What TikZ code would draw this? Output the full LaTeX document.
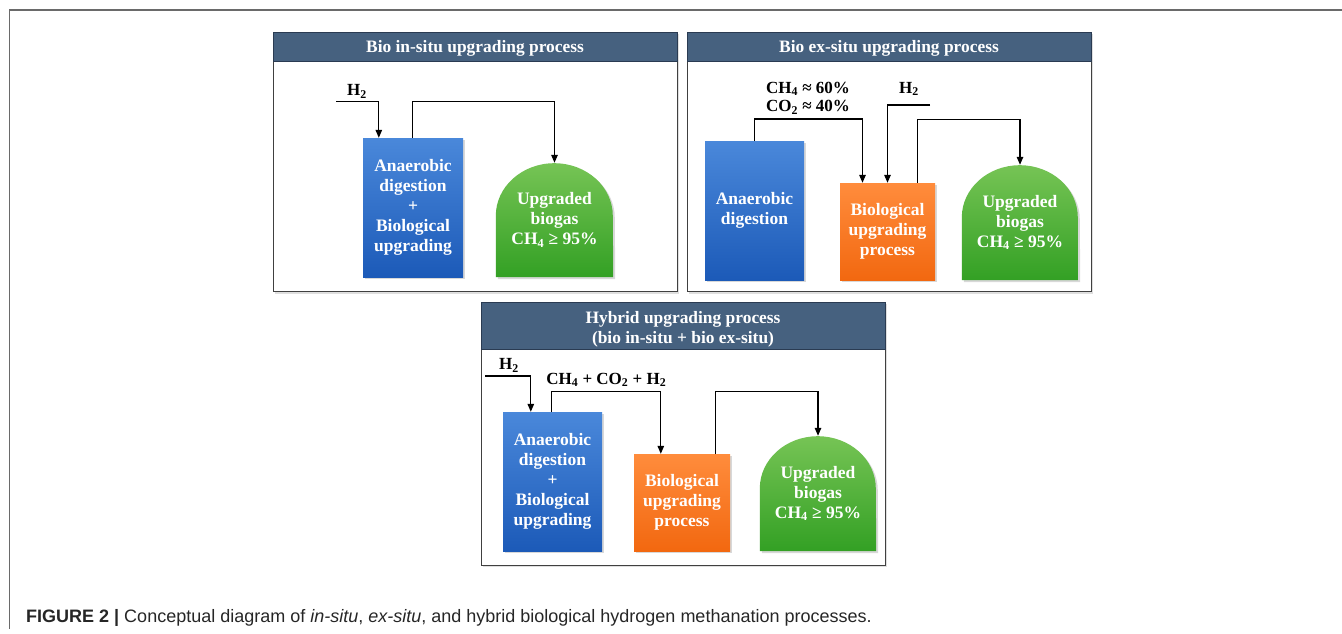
\documentclass[tikz,border=0pt]{standalone}
\usepackage{fontspec}
\setmainfont{Liberation Serif}
\newfontfamily\capfont{Liberation Sans}
\usetikzlibrary{arrows.meta,shadows}
\pgfdeclarelayer{panels}
\pgfdeclarelayer{background}
\pgfsetlayers{panels,background,main}
\definecolor{hdr}{HTML}{46617F}
\definecolor{hdrdark}{HTML}{2A3B52}
\definecolor{bltop}{HTML}{4A88DA}
\definecolor{blbot}{HTML}{1C5AB8}
\definecolor{ortop}{HTML}{FF8C3C}
\definecolor{orbot}{HTML}{F26810}
\definecolor{grtop}{HTML}{76C455}
\definecolor{grbot}{HTML}{33A024}
\definecolor{framegray}{HTML}{6A6A6A}
\tikzset{
  x=1pt, y=1pt,
  panel/.style={draw=black!75, line width=0.9pt, fill=white,
     drop shadow={opacity=0.25, shadow xshift=2pt, shadow yshift=-2pt}},
  header/.style={draw=hdrdark, line width=0.9pt, fill=hdr},
  hdrtxt/.style={text=white, font=\bfseries\fontsize{17.4}{20}\selectfont, align=center},
  boxbase/.style={inner sep=0pt, align=center, text=white,
     font=\bfseries\fontsize{17.5}{20}\selectfont,
     drop shadow={opacity=0.3, shadow xshift=2pt, shadow yshift=-2pt}},
  bluebox/.style={boxbase, top color=bltop, bottom color=blbot},
  orangebox/.style={boxbase, top color=ortop, bottom color=orbot},
  dometxt/.style={inner sep=0pt, align=center, text=white,
     font=\bfseries\fontsize{17.5}{20}\selectfont},
  domefill/.style={top color=grtop, bottom color=grbot,
     drop shadow={opacity=0.3, shadow xshift=2pt, shadow yshift=-2pt}},
  lbl/.style={font=\bfseries\fontsize{17}{18.4}\selectfont, align=center, inner sep=0pt},
  flow/.style={-{Triangle[length=8pt,width=6.5pt]}, line width=1.3pt, black},
}
\newcommand{\domeshape}[3]{% name, width, height
  \begin{pgfonlayer}{background}
  \shade[domefill] (#1.south west) -- ++(0,{#3-0.45*#2}) arc[start angle=180, end angle=0, x radius={#2/2}, y radius={0.45*#2}] -- (#1.south east) -- cycle;
  \end{pgfonlayer}}
\begin{document}
\begin{tikzpicture}
\useasboundingbox (0,0) rectangle (1342,-633);
% outer frame lines
\draw[framegray, line width=1.3pt] (1342,-10) -- (9.3,-10) -- (9.3,-629);

% ===== Panel 1 =====
\begin{pgfonlayer}{panels}
\path[panel] (273,-32) rectangle (677,-291.5);
\path[header] (273,-32) rectangle (677,-61.7);
\path[panel] (687,-32) rectangle (1091,-291.7);
\path[header] (687,-32) rectangle (1091,-61.7);
\path[panel] (481,-302) rectangle (885,-565);
\path[header] (481,-302) rectangle (885,-349.7);
\end{pgfonlayer}
\node[hdrtxt, anchor=base] (t1) at (475,-52) {Bio in-situ upgrading process};
\node[bluebox, minimum width=100, minimum height=139] (b1) at (413,-207.5)
  {Anaerobic\\digestion\\+\\Biological\\upgrading};
\node[dometxt, minimum width=117, minimum height=114] (g1) at (554.5,-220)
  {Upgraded\\biogas\\CH\textsubscript{4} ≥ 95\%};
\domeshape{g1}{117}{114}
\node[lbl, anchor=base] (l1) at (357,-95.5) {H\textsubscript{2}};
\coordinate (h1) at (336,-101.7);
\draw[flow] (h1) -| ([xshift=16]b1.north west);
\draw[flow] ([xshift=50]b1.north west) -- ++(0,36.3) -| (g1.north);

% ===== Panel 2 =====
\node[hdrtxt, anchor=base] (t2) at (889,-52) {Bio ex-situ upgrading process};
\node[bluebox, minimum width=99, minimum height=139] (b2) at (754.5,-210.5)
  {Anaerobic\\digestion};
\node[orangebox, minimum width=95, minimum height=97] (o2) at (887.5,-231.5)
  {Biological\\upgrading\\process};
\node[dometxt, minimum width=116, minimum height=115] (g2) at (1020,-222.5)
  {Upgraded\\biogas\\CH\textsubscript{4} ≥ 95\%};
\domeshape{g2}{116}{115}
\node[lbl, anchor=base] (l2) at (808,-111.7) {CH\textsubscript{4} ≈ 60\%\\CO\textsubscript{2} ≈ 40\%};
\node[lbl, anchor=base] (l3) at (909,-93.3) {H\textsubscript{2}};
\coordinate (h2) at (930,-105);
\draw[flow] (b2.north) -- ++(0,21.7) -| ([xshift=22.7]o2.north west);
\draw[flow] (h2) -| (o2.north);
\draw[flow] ([xshift=78]o2.north west) -- ++(0,63) -| (g2.north);

% ===== Panel 3 =====
\node[hdrtxt, anchor=base] (t3) at (683,-343) {Hybrid upgrading process\\(bio in-situ + bio ex-situ)};
\node[bluebox, minimum width=99, minimum height=139] (b3) at (552.5,-481.5)
  {Anaerobic\\digestion\\+\\Biological\\upgrading};
\node[orangebox, minimum width=96, minimum height=97] (o3) at (682,-502.5)
  {Biological\\upgrading\\process};
\node[dometxt, minimum width=116, minimum height=115] (g3) at (818,-493.5)
  {Upgraded\\biogas\\CH\textsubscript{4} ≥ 95\%};
\domeshape{g3}{116}{115}
\node[lbl, anchor=base] (l4) at (509,-369.7) {H\textsubscript{2}};
\node[lbl, anchor=base] (l5) at (606.3,-384) {CH\textsubscript{4} + CO\textsubscript{2} + H\textsubscript{2}};
\coordinate (h3) at (485,-376);
\draw[flow] (h3) -| ([xshift=28]b3.north west);
\draw[flow] ([xshift=48.5]b3.north west) -- ++(0,20) -| ([xshift=27]o3.north west);
\draw[flow] ([xshift=82]o3.north west) -- ++(0,62) -| (g3.north);

% ===== Caption =====
\node[anchor=base west, inner sep=0pt, text=black!85, font=\capfont\fontsize{18}{20}\selectfont] (cap) at (26,-622.7)
  {\textbf{FIGURE 2 |} Conceptual diagram of \textit{in-situ}, \textit{ex-situ}, and hybrid biological hydrogen methanation processes.};
\end{tikzpicture}
\end{document}
